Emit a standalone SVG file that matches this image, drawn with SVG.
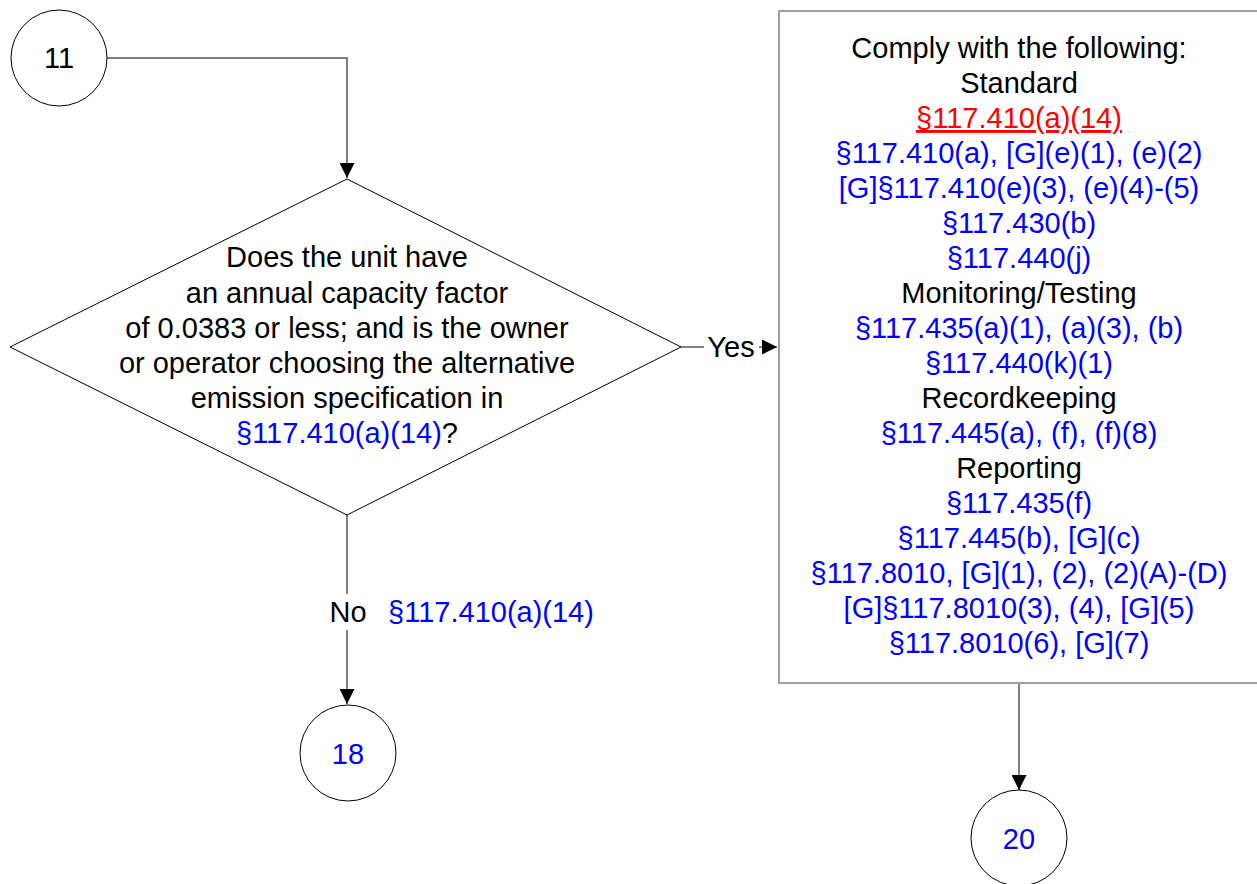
<svg xmlns="http://www.w3.org/2000/svg" width="1257" height="884" viewBox="0 0 1257 884">
<style>
text{font-family:"Liberation Sans",Arial,sans-serif;font-size:29px;text-anchor:middle;fill:#000}
.b{fill:#0000FF}
.r{fill:#FF0000;text-decoration:underline}
.shape{fill:#fff;stroke:#000;stroke-width:1}
.box{fill:#fff;stroke:#808080;stroke-width:1.5}
.conn{fill:none;stroke:#808080;stroke-width:2}
</style>
<defs>
<marker id="ah" viewBox="0 0 10 10" refX="10" refY="5" markerWidth="15" markerHeight="15" markerUnits="userSpaceOnUse" orient="auto">
<path d="M0,0 L10,5 L0,10 Z" fill="#000"/>
</marker>
</defs>
<rect width="1257" height="884" fill="#fff"/>
<g id="connectors">
<path class="conn" d="M107,58 H347 V178" marker-end="url(#ah)"/>
<path class="conn" d="M681,347 H777" marker-end="url(#ah)"/>
<path class="conn" d="M347,515 V704" marker-end="url(#ah)"/>
<path class="conn" d="M1019,684 V790" marker-end="url(#ah)"/>
<rect x="704" y="330" width="55" height="34" fill="#fff"/>
<text x="731" y="357">Yes</text>
<rect x="326" y="594" width="44" height="36" fill="#fff"/>
<text x="348" y="622">No</text>
<text x="491" y="622" class="b">§117.410(a)(14)</text>
</g>
<g id="n11">
<circle class="shape" cx="59" cy="58" r="48"/>
<text x="59" y="68">11</text>
</g>
<g id="decision">
<polygon class="shape" points="347,179 681,347 347,515 10,347"/>
<text x="347" y="267">Does the unit have</text>
<text x="347" y="303">an annual capacity factor</text>
<text x="347" y="338">of 0.0383 or less; and is the owner</text>
<text x="347" y="373">or operator choosing the alternative</text>
<text x="347" y="408">emission specification in</text>
<text x="347" y="443"><tspan class="b">§117.410(a)(14)</tspan>?</text>
</g>
<g id="comply">
<rect class="box" x="779" y="11" width="480" height="672"/>
<text x="1019" y="58">Comply with the following:</text>
<text x="1019" y="93">Standard</text>
<text x="1019" y="128" class="r">§117.410(a)(14)</text>
<text x="1019" y="163" class="b">§117.410(a), [G](e)(1), (e)(2)</text>
<text x="1019" y="198" class="b">[G]§117.410(e)(3), (e)(4)-(5)</text>
<text x="1019" y="233" class="b">§117.430(b)</text>
<text x="1019" y="268" class="b">§117.440(j)</text>
<text x="1019" y="303">Monitoring/Testing</text>
<text x="1019" y="338" class="b">§117.435(a)(1), (a)(3), (b)</text>
<text x="1019" y="373" class="b">§117.440(k)(1)</text>
<text x="1019" y="408">Recordkeeping</text>
<text x="1019" y="443" class="b">§117.445(a), (f), (f)(8)</text>
<text x="1019" y="478">Reporting</text>
<text x="1019" y="513" class="b">§117.435(f)</text>
<text x="1019" y="548" class="b">§117.445(b), [G](c)</text>
<text x="1019" y="583" class="b">§117.8010, [G](1), (2), (2)(A)-(D)</text>
<text x="1019" y="618" class="b">[G]§117.8010(3), (4), [G](5)</text>
<text x="1019" y="653" class="b">§117.8010(6), [G](7)</text>
</g>
<g id="n18">
<circle class="shape" cx="348" cy="753" r="48"/>
<text x="348" y="764" class="b">18</text>
</g>
<g id="n20">
<circle class="shape" cx="1019" cy="838" r="48"/>
<text x="1019" y="849" class="b">20</text>
</g>
</svg>
